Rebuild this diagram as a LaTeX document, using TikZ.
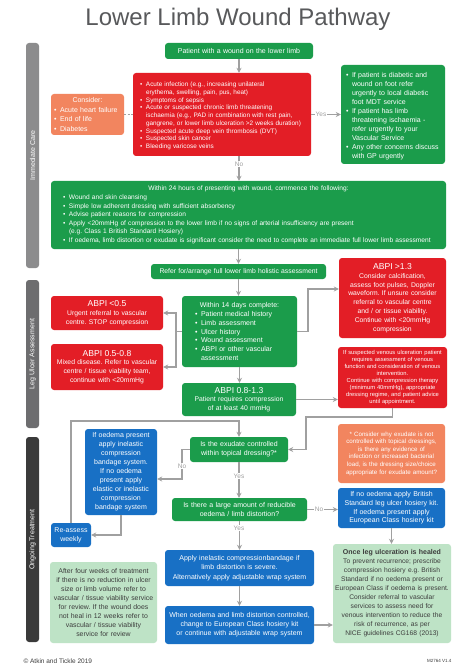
\documentclass[tikz,border=0pt]{standalone}
\usepackage{fontspec}
\setmainfont{Liberation Sans}
\usetikzlibrary{arrows.meta}
\definecolor{cgreen}{HTML}{1B9C4B}
\definecolor{cred}{HTML}{E31E26}
\definecolor{corange}{HTML}{F2855F}
\definecolor{cblue}{HTML}{1870C5}
\definecolor{clight}{HTML}{BEE3C6}
\definecolor{cline}{HTML}{A0A0A0}
\definecolor{ctitle}{HTML}{58595B}
\definecolor{cbarA}{HTML}{8C8C8D}
\definecolor{cbarB}{HTML}{6D6D6F}
\definecolor{cbarC}{HTML}{3A3A3A}
\definecolor{cdark}{HTML}{3C3C3C}
\frenchspacing
\hyphenpenalty=10000
\exhyphenpenalty=10000
\newcommand\fs[2]{\fontsize{#1}{#2}\selectfont}
\newcommand\bi{\par\hangindent=6pt\hangafter=1\noindent\makebox[6pt][l]{\textbullet}}
\newcommand\ctr[1]{{\centering #1\par}}
\newcommand\ttl[1]{{\fs{8.6}{10}#1}}
\begin{document}
\begin{tikzpicture}[x=1pt,y=-1pt,
  box/.style={rounded corners=3pt, inner ysep=1pt, inner xsep=3pt, text=white, align=center},
  gbox/.style={box, fill=cgreen},
  rbox/.style={box, fill=cred},
  obox/.style={box, fill=corange},
  bbox/.style={box, fill=cblue},
  lbox/.style={box, fill=clight, text=cdark},
  bar/.style={rounded corners=3pt, minimum width=13pt, inner sep=0pt},
  bartext/.style={rotate=90, text=white, font=\fs{7}{8}},
  conn/.style={draw=cline, line width=1.1pt},
  arr/.style={conn, -{Stealth[length=5pt,width=5pt]}},
  lab/.style={fill=white, text=cline, font=\fs{6.5}{7}, inner sep=0.8pt}]
\useasboundingbox (0,0) rectangle (474,668);
\fill[white] (0,0) rectangle (474,668);

% title
\node[font=\fs{24}{28}, text=ctitle] (title) at (238,19) {Lower Limb Wound Pathway};

% side bars
\node[bar, fill=cbarA, minimum height=225pt] (sbA) at (32.5,155.5) {};
\node[bartext] (sbAt) at (sbA) {Immediate Care};
\node[bar, fill=cbarB, minimum height=148pt] (sbB) at (32.5,354) {};
\node[bartext] (sbBt) at (sbB) {Leg Ulcer Assessment};
\node[bar, fill=cbarC, minimum height=205pt] (sbC) at (32.5,539.5) {};
\node[bartext] (sbCt) at (sbC) {Ongoing Treatment};

% immediate care
\node[gbox, minimum width=148pt, minimum height=16pt, text width=142pt, font=\fs{7}{8.5}] (patient) at (239,51) {Patient with a wound on the lower limb};

\node[rbox, minimum width=178pt, minimum height=83pt, text width=164pt, inner xsep=7pt, align=left, font=\fs{6.4}{7.7}] (red) at (222,114.5)
 {\bi Acute infection (e.g., increasing unilateral\newline erythema, swelling, pain, pus, heat)\bi Symptoms of sepsis\bi Acute or suspected chronic limb threatening\newline ischaemia (e.g., PAD in combination with rest pain,\newline gangrene, or lower limb ulceration >2 weeks duration)\bi Suspected acute deep vein thrombosis (DVT)\bi Suspected skin cancer\bi Bleeding varicose veins\par};

\node[obox, minimum width=73pt, minimum height=41pt, text width=67pt, align=left, font=\fs{7}{9.4}] (consider) at (87.5,114.5)
 {\ctr{Consider:}\bi Acute heart failure\bi End of life\bi Diabetes\par};

\node[gbox, minimum width=104pt, minimum height=99pt, text width=94pt, inner xsep=5pt, align=left, font=\fs{7}{9}] (greenR) at (393,114.5)
 {\bi If patient is diabetic and\newline wound on foot refer\newline urgently to local diabetic\newline foot MDT service\bi If patient has limb\newline threatening ischaemia -\newline refer urgently to your\newline Vascular Service\bi Any other concerns discuss\newline with GP urgently\par};

\node[gbox, minimum width=395pt, minimum height=68pt, text width=371pt, inner xsep=12pt, align=left, font=\fs{6.6}{8.6}] (h24) at (248.5,215)
 {\ctr{Within 24 hours of presenting with wound, commence the following:}\bi Wound and skin cleansing\bi Simple low adherent dressing with sufficient absorbency\bi Advise patient reasons for compression\bi Apply <20mmHg of compression to the lower limb if no signs of arterial insufficiency are present\newline (e.g.\ Class 1 British Standard Hosiery)\bi If oedema, limb distortion or exudate is significant consider the need to complete an immediate full lower limb assessment\par};

% leg ulcer assessment
\node[gbox, minimum width=175pt, minimum height=15pt, text width=169pt, font=\fs{6.8}{8}] (refer) at (238.5,271.5) {Refer for/arrange full lower limb holistic assessment};

\node[rbox, minimum width=107pt, minimum height=80pt, text width=101pt, font=\fs{6.8}{8.8}] (abpi13) at (392.5,298)
 {\ttl{ABPI >1.3}\\Consider calcification,\\assess foot pulses, Doppler\\waveform. If unsure consider\\referral to vascular centre\\and / or tissue viability.\\Continue with <20mmHg\\compression};

\node[gbox, minimum width=115pt, minimum height=71pt, text width=89pt, inner xsep=13pt, align=left, font=\fs{7}{8.9}] (days14) at (239.5,331.5)
 {\ctr{Within 14 days complete:}\bi Patient medical history\bi Limb assessment\bi Ulcer history\bi Wound assessment\bi ABPI or other vascular\newline assessment\par};

\node[rbox, minimum width=112pt, minimum height=34pt, text width=106pt, font=\fs{6.8}{8.8}] (abpi05) at (107,313)
 {\ttl{ABPI <0.5}\\Urgent referral to vascular\\centre. STOP compression};

\node[rbox, minimum width=112pt, minimum height=46pt, text width=106pt, font=\fs{6.8}{8.8}] (abpi058) at (107,367)
 {\ttl{ABPI 0.5-0.8}\\Mixed disease. Refer to vascular\\centre / tissue viability team,\\continue with <20mmHg};

\node[gbox, minimum width=114pt, minimum height=33pt, text width=108pt, font=\fs{6.8}{8.8}] (abpi0813) at (239,399.5)
 {\ttl{ABPI 0.8-1.3}\\Patient requires compression\\of at least 40 mmHg};

\node[rbox, minimum width=109pt, minimum height=61pt, text width=105pt, inner xsep=2pt, font=\fs{5.8}{7}] (venous) at (392.5,377.5)
 {If suspected venous ulceration patient\\requires assessment of venous\\function and consideration of venous\\intervention.\\Continue with compression therapy\\(minimum 40mmHg), appropriate\\dressing regime, and patient advice\\until appointment.};

% ongoing treatment
\node[gbox, minimum width=98pt, minimum height=25pt, text width=92pt, font=\fs{7}{9}] (exud) at (239,449.5)
 {Is the exudate controlled\\within topical dressing?*};

\node[obox, minimum width=107pt, minimum height=59pt, text width=103pt, inner xsep=2pt, font=\fs{6.2}{7.6}] (orangeR) at (391.5,453.5)
 {* Consider why exudate is not\\controlled with topical dressings,\\is there any evidence of\\infection or increased bacterial\\load, is the dressing size/choice\\appropriate for exudate amount?};

\node[bbox, minimum width=72pt, minimum height=86pt, text width=68pt, inner xsep=2pt, font=\fs{7}{9}] (blueL) at (121,472)
 {If oedema present\\apply inelastic\\compression\\bandage system.\\If no oedema\\present apply\\elastic or inelastic\\compression\\bandage system};

\node[gbox, minimum width=135pt, minimum height=23pt, text width=129pt, font=\fs{7}{9}] (large) at (239.5,509.5)
 {Is there a large amount of reducible\\oedema / limb distortion?};

\node[bbox, minimum width=107pt, minimum height=40pt, text width=103pt, inner xsep=2pt, font=\fs{7}{8.7}] (blueR) at (391.5,508)
 {If no oedema apply British\\Standard leg ulcer hosiery kit.\\If oedema present apply\\European Class hosiery kit};

\node[bbox, minimum width=40pt, minimum height=24pt, text width=38pt, inner xsep=1pt, font=\fs{7}{9}] (reassess) at (71,535)
 {Re-assess\\weekly};

\node[bbox, minimum width=149pt, minimum height=36pt, text width=143pt, font=\fs{7}{9.3}] (blueApply) at (239.5,568)
 {Apply inelastic compressionbandage if\\limb distortion is severe.\\Alternatively apply adjustable wrap system};

\node[bbox, minimum width=149pt, minimum height=38pt, text width=145pt, inner xsep=2pt, font=\fs{7}{9}] (blueWhen) at (239.5,625)
 {When oedema and limb distortion controlled,\\change to European Class hosiery kit\\or continue with adjustable wrap system};

\node[lbox, minimum width=107pt, minimum height=81pt, text width=105pt, inner xsep=1pt, font=\fs{6.9}{9}] (fourweeks) at (103.5,602.5)
 {After four weeks of treatment\\if there is no reduction in ulcer\\size or limb volume refer to\\vascular / tissue viability service\\for review. If the wound does\\not heal in 12 weeks refer to\\vascular / tissue viability\\service for review};

\node[lbox, minimum width=118pt, minimum height=99pt, text width=116pt, inner xsep=1pt, font=\fs{6.7}{9}] (healed) at (392,593.5)
 {{\fs{7}{9}\bfseries Once leg ulceration is healed}\\To prevent recurrence; prescribe\\compression hosiery e.g.\ British\\Standard if no oedema present or\\European Class if oedema is present.\\Consider referral to vascular\\services to assess need for\\venous intervention to reduce the\\risk of recurrence, as per\\NICE guidelines CG168 (2013)};

% footer
\node[anchor=west, font=\fs{6.5}{8}, text=cdark] (copy) at (20,661) {© Atkin and Tickle 2019};
\node[anchor=east, font=\fs{4.5}{5}, text=cdark] (code) at (455,661) {M2764 V1.4};

% helper coordinates
\coordinate (jl) at (176,331.5);
\coordinate (jr) at (308,331.5);
\coordinate (a13) at (308,289);
\coordinate (v1) at (392.5,417);
\coordinate (v2) at (306,417);
\coordinate (r1) at (239,421);
\coordinate (n2) at (182,479);

% connectors
\draw[arr] (patient.south) -- (patient.south |- red.north);
\draw[arr] (red.east) -- (greenR.west);
\draw[conn, dashed, dash pattern=on 2pt off 1.5pt, line width=0.8pt] (consider.east) -- (red.west);
\draw[arr] (patient.south |- red.south) -- (patient.south |- h24.north);
\draw[arr] (refer.north |- h24.south) -- (refer.north);
\draw[arr] (refer.south) -- (refer.south |- days14.north);
\draw[conn] (days14.west) -- (jl);
\draw[arr] (jl) |- (abpi05.east);
\draw[arr] (jl) |- (abpi058.east);
\draw[arr] (days14.east) -- (jr) -- (a13) -- (abpi13.west |- a13);
\draw[arr] (days14.south) -- (days14.south |- abpi0813.north);
\draw[arr] (abpi0813.east) -- (venous.west |- abpi0813.east);
\draw[arr] (venous.south) -- (v1) -- (v2) |- (exud.east);
\draw[arr] (reassess.north) |- (r1) -- (exud.north);
\draw[arr] (exud.west) -| (n2) -- (blueL.east |- n2);
\draw[arr] (exud.south) -- (exud.south |- large.north);
\draw[arr] (large.east) -- (blueR.west |- large.east);
\draw[arr] (large.south) -- (large.south |- blueApply.north);
\draw[arr] (blueApply.south) -- (blueWhen.north);
\draw[arr] (blueWhen.east) -- (healed.west |- blueWhen.east);
\draw[arr] (blueR.south) -- (blueR.south |- healed.north);
\draw[arr] (blueL.south) |- (reassess.east);

% labels
\node[lab] (l1) at (321,114.5) {Yes};
\node[lab] (l2) at (239,164) {No};
\node[lab] (l3) at (182,466) {No};
\node[lab] (l4) at (239,476) {Yes};
\node[lab] (l5) at (319,509.5) {No};
\node[lab] (l6) at (239,528) {Yes};
\end{tikzpicture}
\end{document}
